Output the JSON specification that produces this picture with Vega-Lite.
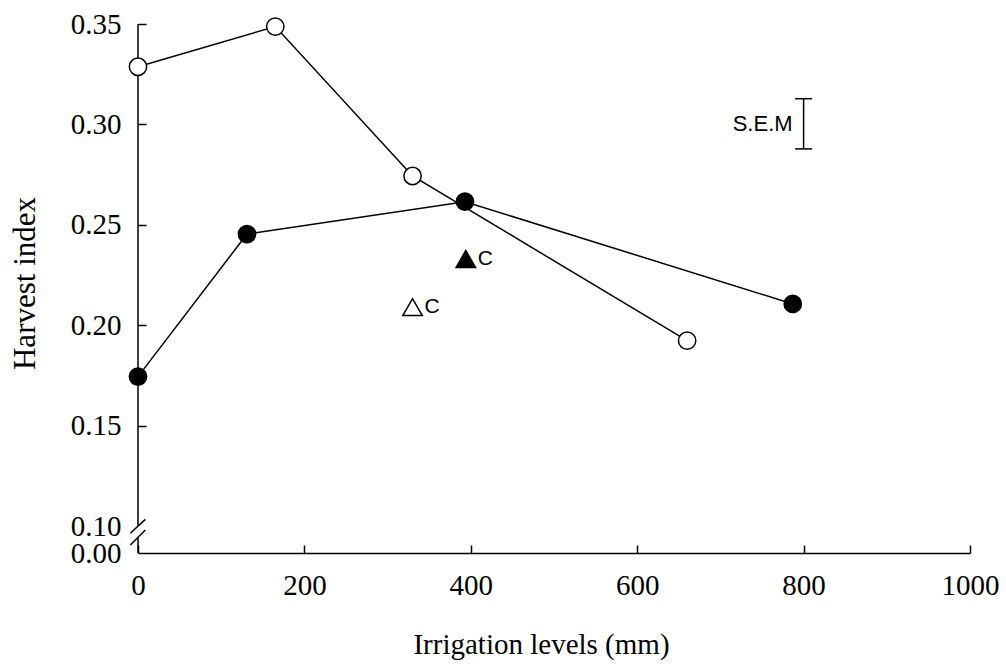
{
  "$schema": "https://vega.github.io/schema/vega-lite/v6.json",
  "width": 832,
  "height": 529,
  "autosize": {"type": "none"},
  "padding": {"left": 138, "top": 24, "right": 36, "bottom": 111},
  "background": "white",
  "config": {"view": {"stroke": null}, "axis": {"grid": false}},
  "datasets": {
    "main": [
      {"series": "open", "irrigation": 0, "harvest_index": 0.3287},
      {"series": "open", "irrigation": 165, "harvest_index": 0.3487},
      {"series": "open", "irrigation": 330, "harvest_index": 0.2743},
      {"series": "open", "irrigation": 660, "harvest_index": 0.1923},
      {"series": "filled", "irrigation": 0, "harvest_index": 0.1744},
      {"series": "filled", "irrigation": 131, "harvest_index": 0.2454},
      {"series": "filled", "irrigation": 393, "harvest_index": 0.2615},
      {"series": "filled", "irrigation": 787, "harvest_index": 0.2106}
    ],
    "tri": [
      {"series": "open", "irrigation": 330, "harvest_index": 0.209, "label": "C"},
      {"series": "filled", "irrigation": 394, "harvest_index": 0.233, "label": "C"}
    ],
    "sem": [
      {"irrigation": 800, "lo": 0.2878, "hi": 0.3128, "mid": 0.3, "label": "S.E.M"}
    ],
    "semcaps": [
      {"irrigation": 800, "harvest_index": 0.2878},
      {"irrigation": 800, "harvest_index": 0.3128}
    ],
    "brk": [
      {"x": 0, "x2": 0, "y": 0.1, "y2": 0.35},
      {"x": 0, "x2": 0, "y": 0, "y2": 0.0556},
      {"x": -9.2, "x2": 8.8, "y": 0.073, "y2": 0.1033},
      {"x": -9.2, "x2": 8.8, "y": 0.0296, "y2": 0.0852}
    ]
  },
  "layer": [
    {
      "data": {"name": "main"},
      "mark": {"type": "line", "color": "black", "strokeWidth": 1.5},
      "encoding": {
        "x": {
          "field": "irrigation", "type": "quantitative",
          "scale": {"domain": [0, 1000], "nice": false, "zero": false},
          "axis": {
            "title": "Irrigation levels (mm)",
            "values": [0, 200, 400, 600, 800, 1000],
            "format": "d",
            "tickSize": -8, "tickColor": "black", "tickWidth": 1.5,
            "domainColor": "black", "domainWidth": 1.5,
            "labelFont": "Liberation Serif", "labelFontSize": 29, "labelColor": "black",
            "labelPadding": 26, "labelFlush": false, "labelOverlap": false,
            "titleFont": "Liberation Serif", "titleFontSize": 29, "titleFontWeight": "normal",
            "titleColor": "black", "titleBaseline": "alphabetic", "titleY": 100, "titleX": 403
          }
        },
        "y": {
          "field": "harvest_index", "type": "quantitative",
          "scale": {"domain": [0, 0.1, 0.35], "range": [529, 502, 0], "nice": false, "zero": false},
          "axis": {
            "title": "Harvest index",
            "values": [0, 0.1, 0.15, 0.2, 0.25, 0.3, 0.35],
            "format": ".2f",
            "domain": false,
            "tickSize": -8, "tickColor": "black", "tickWidth": 1.5,
            "tickOpacity": {"condition": {"test": "datum.value < 0.12", "value": 0}, "value": 1},
            "labelFont": "Liberation Serif", "labelFontSize": 29, "labelColor": "black",
            "labelPadding": 25, "labelFlush": false, "labelOverlap": false,
            "titleFont": "Liberation Serif", "titleFontSize": 31, "titleFontWeight": "normal",
            "titleColor": "black", "titleBaseline": "alphabetic", "titleX": -104, "titleY": 259
          }
        },
        "detail": {"field": "series"}
      }
    },
    {
      "data": {"name": "brk"},
      "mark": {"type": "rule", "color": "black", "strokeWidth": 1.5},
      "encoding": {
        "x": {"field": "x", "type": "quantitative"},
        "x2": {"field": "x2"},
        "y": {"field": "y", "type": "quantitative"},
        "y2": {"field": "y2"}
      }
    },
    {
      "data": {"name": "main"},
      "mark": {"type": "point", "shape": "circle", "size": 300, "filled": true, "stroke": "black", "strokeWidth": 1.5, "opacity": 1},
      "encoding": {
        "x": {"field": "irrigation", "type": "quantitative"},
        "y": {"field": "harvest_index", "type": "quantitative"},
        "fill": {"field": "series", "type": "nominal", "scale": {"domain": ["open", "filled"], "range": ["white", "black"]}, "legend": null}
      }
    },
    {
      "data": {"name": "tri"},
      "mark": {"type": "point", "shape": "triangle-up", "size": 380, "filled": true, "stroke": "black", "strokeWidth": 1.5, "opacity": 1},
      "encoding": {
        "x": {"field": "irrigation", "type": "quantitative"},
        "y": {"field": "harvest_index", "type": "quantitative"},
        "fill": {"field": "series", "type": "nominal", "legend": null}
      }
    },
    {
      "data": {"name": "tri"},
      "mark": {"type": "text", "align": "left", "baseline": "middle", "dx": 12, "font": "Liberation Sans", "fontSize": 21, "color": "black"},
      "encoding": {
        "x": {"field": "irrigation", "type": "quantitative"},
        "y": {"field": "harvest_index", "type": "quantitative"},
        "text": {"field": "label"}
      }
    },
    {
      "data": {"name": "sem"},
      "mark": {"type": "rule", "color": "black", "strokeWidth": 1.5},
      "encoding": {
        "x": {"field": "irrigation", "type": "quantitative"},
        "y": {"field": "lo", "type": "quantitative"},
        "y2": {"field": "hi"}
      }
    },
    {
      "data": {"name": "semcaps"},
      "mark": {"type": "tick", "orient": "horizontal", "size": 17, "thickness": 1.5, "color": "black", "opacity": 1},
      "encoding": {
        "x": {"field": "irrigation", "type": "quantitative"},
        "y": {"field": "harvest_index", "type": "quantitative"}
      }
    },
    {
      "data": {"name": "sem"},
      "mark": {"type": "text", "align": "right", "baseline": "middle", "dx": -11, "font": "Liberation Sans", "fontSize": 22, "color": "black"},
      "encoding": {
        "x": {"field": "irrigation", "type": "quantitative"},
        "y": {"field": "mid", "type": "quantitative"},
        "text": {"field": "label"}
      }
    }
  ]
}
